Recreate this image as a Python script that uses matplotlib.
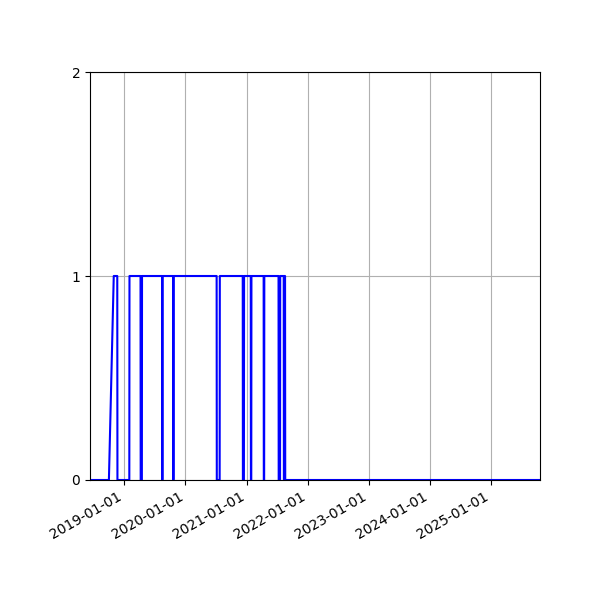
import matplotlib
matplotlib.use('Agg')
import matplotlib.pyplot as plt
import matplotlib.dates as mdates
import pandas as pd

# status breakpoints (0 = off, 1 = on)
dates = [
    '2018-06-10', '2018-10-01', '2018-10-30', '2018-11-20', '2018-11-21',
    '2019-01-31', '2019-02-01',
    '2019-04-08', '2019-04-09', '2019-04-16', '2019-04-17',
    '2019-08-15', '2019-08-16', '2019-08-17', '2019-08-18',
    '2019-10-20', '2019-10-21', '2019-10-22', '2019-10-23',
    '2020-07-06', '2020-07-07', '2020-07-24', '2020-07-25',
    '2020-12-09', '2020-12-10', '2020-12-16', '2020-12-17',
    '2021-01-26', '2021-01-27', '2021-01-29', '2021-01-30',
    '2021-04-13', '2021-04-14', '2021-04-16', '2021-04-17',
    '2021-07-11', '2021-07-12', '2021-07-20', '2021-07-21',
    '2021-08-11', '2021-08-12', '2021-08-13', '2021-08-14',
    '2021-08-19', '2021-08-20',
    '2025-10-21',
]
status = [
    0, 0, 1, 1, 0,
    0, 1,
    1, 0, 0, 1,
    1, 0, 0, 1,
    1, 0, 0, 1,
    1, 0, 0, 1,
    1, 0, 0, 1,
    1, 0, 0, 1,
    1, 0, 0, 1,
    1, 0, 0, 1,
    1, 0, 0, 1,
    1, 0,
    0,
]

x = pd.to_datetime(dates)

fig, ax = plt.subplots(figsize=(6, 6), dpi=100)
ax.plot(x, status, color='blue', linewidth=1.5)
ax.set_xlim(x[0], x[-1])
ax.set_ylim(0, 2)
ax.set_yticks([0, 1, 2])
ax.xaxis.set_major_locator(mdates.YearLocator())
ax.xaxis.set_major_formatter(mdates.DateFormatter('%Y-%m-%d'))
ax.grid(True)
fig.autofmt_xdate()
fig.subplots_adjust(left=0.15, bottom=0.2)
fig.savefig('out.png', dpi=100)
